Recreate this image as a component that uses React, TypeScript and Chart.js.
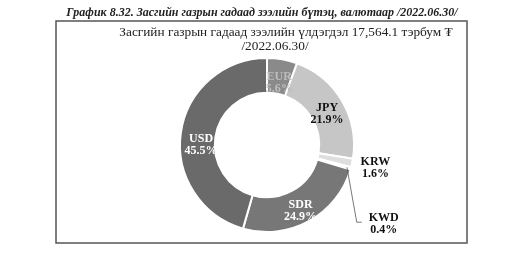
import React, { useEffect, useRef } from "react";
import { Chart, registerables } from "chart.js";

Chart.register(...registerables);

const categories = ["EUR", "JPY", "KRW", "KWD", "SDR", "USD"];
const shares = [5.6, 21.9, 1.6, 0.4, 24.9, 45.5];
const colors = ["#8a8a8a", "#c6c6c6", "#dedede", "#eeeeee", "#777777", "#6a6a6a"];
const labelColors = ["#bdbdbd", "#111111", "#111111", "#111111", "#ffffff", "#ffffff"];
const header = "График 8.32. Засгийн газрын гадаад зээлийн бүтэц, валютаар /2022.06.30/";
const titleLines = ["Засгийн газрын гадаад зээлийн үлдэгдэл 17,564.1 тэрбум ₮", "/2022.06.30/"];

// label placement style: radius fraction (of outer radius) and pixel nudges
const labelRadius = [0.8, 0.8, 1.25, 1.25, 0.8, 0.8];
const labelNudge: [number, number][] = [[0, 6], [0, 4], [2, 0], [12, 50], [0, 5], [3, 10]];

const deco = {
  id: "deco",
  beforeDraw(chart: any) {
    const ctx = chart.ctx;
    ctx.save();
    ctx.fillStyle = "#ffffff";
    ctx.fillRect(0, 0, chart.width, chart.height);
    ctx.fillStyle = "#222";
    ctx.font = "bold italic 12px 'Liberation Serif', serif";
    ctx.textAlign = "center";
    ctx.textBaseline = "middle";
    ctx.fillText(header, 262, 13);
    ctx.strokeStyle = "#555";
    ctx.lineWidth = 1.5;
    ctx.strokeRect(56, 21, 411, 222);
    ctx.font = "13.3px 'Liberation Serif', serif";
    ctx.fillStyle = "#222";
    ctx.fillText(titleLines[0], 286, 33);
    ctx.fillText(titleLines[1], 275, 47);
    ctx.restore();
  },
  afterDatasetsDraw(chart: any) {
    const ctx = chart.ctx;
    const meta = chart.getDatasetMeta(0);
    ctx.save();
    ctx.font = "bold 12px 'Liberation Serif', serif";
    ctx.textAlign = "center";
    ctx.textBaseline = "middle";
    meta.data.forEach((arc: any, i: number) => {
      const { x, y, startAngle, endAngle, outerRadius } = arc.getProps(
        ["x", "y", "startAngle", "endAngle", "outerRadius"],
        true
      );
      const mid = (startAngle + endAngle) / 2;
      const r = outerRadius * labelRadius[i];
      const lx = x + Math.cos(mid) * r + labelNudge[i][0];
      const ly = y + Math.sin(mid) * r + labelNudge[i][1];
      if (i === 3) {
        ctx.strokeStyle = "#555";
        ctx.lineWidth = 0.8;
        ctx.beginPath();
        const sx = x + Math.cos(mid) * (outerRadius - 4);
        const sy = y + Math.sin(mid) * (outerRadius - 4);
        ctx.moveTo(sx, sy);
        ctx.lineTo(lx - 27, ly - 2);
        ctx.lineTo(lx - 22, ly - 2);
        ctx.stroke();
      }
      ctx.fillStyle = labelColors[i];
      ctx.fillText(categories[i], lx, ly - 6);
      ctx.fillText(shares[i].toFixed(1) + "%", lx, ly + 6);
    });
    ctx.restore();
  },
};

export default function App() {
  const ref = useRef<HTMLCanvasElement>(null);
  useEffect(() => {
    const chart = new Chart(ref.current!, {
      type: "doughnut",
      data: {
        labels: categories,
        datasets: [
          {
            data: shares,
            backgroundColor: colors,
            borderColor: "#ffffff",
            borderWidth: 2,
          },
        ],
      },
      options: {
        animation: false,
        responsive: false,
        cutout: "60%",
        layout: { padding: { left: 150, right: 126, top: 57, bottom: 23 } },
        plugins: { legend: { display: false }, tooltip: { enabled: false }, title: { display: false } },
      },
      plugins: [deco],
    });
    return () => chart.destroy();
  }, []);
  return (
    <div style={{ position: "fixed", left: 0, top: 0, width: 510, height: 256, background: "#fff" }}>
      <canvas ref={ref} width={510} height={256} style={{ display: "block", width: 510, height: 256 }} />
    </div>
  );
}
